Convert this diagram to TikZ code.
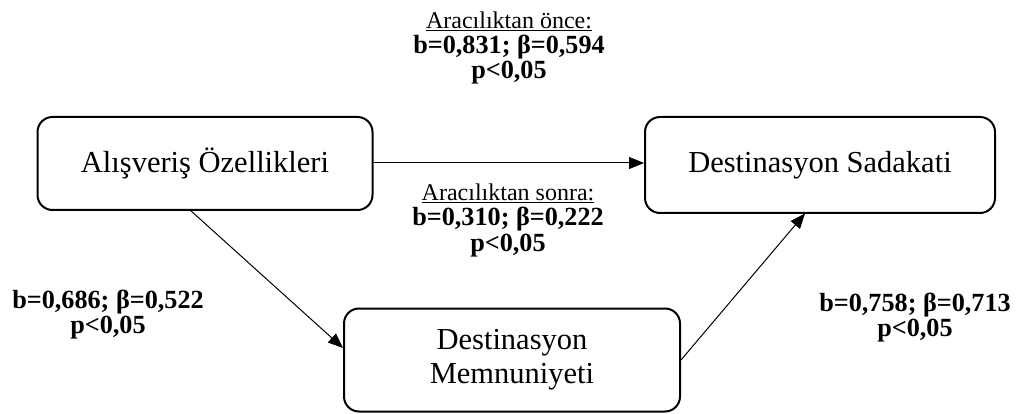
\documentclass[tikz,border=0pt]{standalone}
\usepackage{fontspec}
\setmainfont{Liberation Serif}
\usetikzlibrary{arrows.meta}
\tikzset{
  box/.style={draw, line width=2pt, rounded corners=15pt, inner sep=0pt, align=center, font=\fontsize{30.5}{34}\selectfont},
  conn/.style={line width=1pt, -{Triangle[length=15pt,width=12pt]}},
  stat/.style={align=center, inner sep=0pt, font=\fontsize{26.2}{25.5}\selectfont\bfseries},
  head/.style={inner sep=0pt, font=\fontsize{24}{24}\selectfont}
}
\begin{document}
\begin{tikzpicture}[x=1pt,y=-1pt]
\useasboundingbox (0,0) rectangle (1023,414);
\node[box, minimum width=335pt, minimum height=93pt] (A) at (205,163.5) {Alışveriş Özellikleri};
\node[box, minimum width=350pt, minimum height=96pt] (B) at (820,165) {Destinasyon Sadakati};
\node[box, minimum width=336pt, minimum height=103pt] (C) at (512,360) {Destinasyon\\Memnuniyeti};
\draw[conn] (A.east |- 0,163) -- (B.west |- 0,163);
\draw[conn] (190,210) coordinate (a1) -- (C.west |- 0,348);
\draw[conn] (C.east |- 0,360) -- (805,213.5) coordinate (b1);
\node[head] (t1) at (509,21) {\underline{Aracılıktan önce:}};
\node[stat] (t2) at (509,59.5) {b=0,831; β=0,594\\p<0,05};
\node[head] (m1) at (508,193) {\underline{Aracılıktan sonra:}};
\node[stat] (m2) at (508,232) {b=0,310; β=0,222\\p<0,05};
\node[stat] (l1) at (108,314.5) {b=0,686; β=0,522\\p<0,05};
\node[stat] (r1) at (915,317.5) {b=0,758; β=0,713\\p<0,05};
\end{tikzpicture}
\end{document}
